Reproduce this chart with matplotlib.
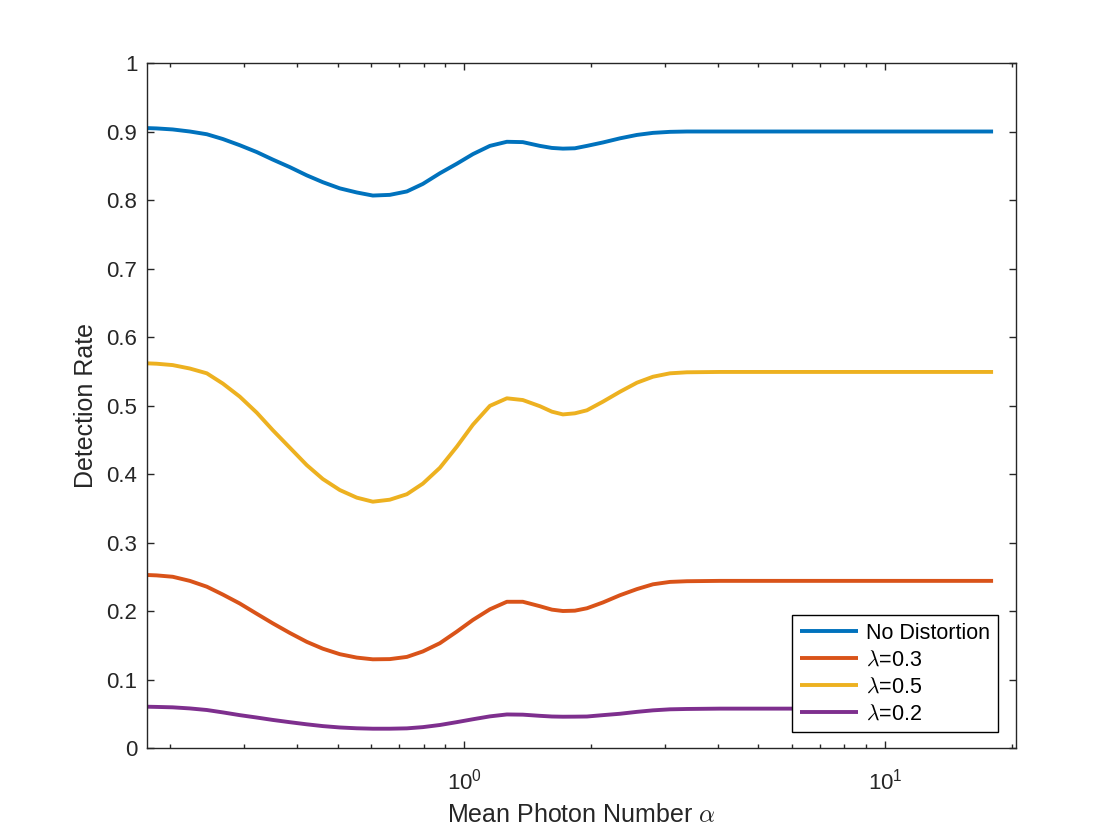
import numpy as np
import matplotlib.pyplot as plt
from matplotlib.ticker import LogLocator, FixedLocator, FuncFormatter

plt.rcParams['font.family'] = ['Liberation Sans', 'DejaVu Sans']
plt.rcParams['mathtext.fontset'] = 'cm'

# values
alpha = [0.1758, 0.1856, 0.2026, 0.2225, 0.2442, 0.2666, 0.2924, 0.3209,
         0.3504, 0.3846, 0.4220, 0.4608, 0.5057, 0.5549, 0.6059, 0.6649,
         0.7300, 0.7968, 0.8744, 0.9598, 1.048, 1.150, 1.262, 1.377,
         1.512, 1.615, 1.715, 1.831, 1.956, 2.135, 2.343, 2.572, 2.808,
         3.082, 3.381, 4.052, 5.043, 6.28, 18.07]

no_distortion = [0.905, 0.9045, 0.903, 0.900, 0.896, 0.889, 0.880, 0.870,
                 0.859, 0.848, 0.836, 0.826, 0.817, 0.811, 0.8065, 0.8075,
                 0.8125, 0.8235, 0.839, 0.853, 0.867, 0.879, 0.885, 0.8845,
                 0.879, 0.876, 0.875, 0.8755, 0.879, 0.884, 0.890, 0.895,
                 0.898, 0.8995, 0.900, 0.900, 0.900, 0.900, 0.900]
lam03 = [0.2526, 0.252, 0.250, 0.244, 0.2355, 0.224, 0.211, 0.196,
         0.182, 0.168, 0.155, 0.145, 0.137, 0.132, 0.1295, 0.1298,
         0.133, 0.141, 0.153, 0.170, 0.187, 0.2025, 0.2135, 0.2135,
         0.207, 0.202, 0.200, 0.2005, 0.204, 0.2125, 0.223, 0.232,
         0.239, 0.2425, 0.2435, 0.244, 0.244, 0.244, 0.244]
lam05 = [0.5616, 0.561, 0.559, 0.554, 0.547, 0.532, 0.513, 0.4896,
         0.464, 0.4385, 0.413, 0.3927, 0.3766, 0.3655, 0.3596, 0.3625,
         0.3705, 0.386, 0.409, 0.440, 0.472, 0.4995, 0.5105, 0.508,
         0.499, 0.491, 0.487, 0.4886, 0.493, 0.5056, 0.520, 0.5333,
         0.542, 0.547, 0.5485, 0.549, 0.549, 0.549, 0.549]
lam02 = [0.0603, 0.060, 0.0594, 0.0578, 0.0555, 0.052, 0.048, 0.0445,
         0.041, 0.0377, 0.0346, 0.032, 0.030, 0.0288, 0.0282, 0.0282,
         0.0287, 0.0305, 0.0336, 0.0378, 0.042, 0.0462, 0.049, 0.0487,
         0.047, 0.046, 0.0457, 0.0458, 0.046, 0.048, 0.050, 0.0528,
         0.055, 0.0565, 0.057, 0.0575, 0.0575, 0.0575, 0.0575]

series = [
    (no_distortion, "No Distortion", "#0072BD"),
    (lam03, r"$\lambda$=0.3", "#D95319"),
    (lam05, r"$\lambda$=0.5", "#EDB120"),
    (lam02, r"$\lambda$=0.2", "#7E2F8E"),
]

fig = plt.figure(figsize=(11.2, 8.4), dpi=100)
ax = fig.add_axes([0.13125, 0.1095, 0.776, 0.8155])

for vals, label, color in series:
    ax.plot(alpha, vals, color=color, lw=2.8, label=label,
            solid_capstyle='butt', solid_joinstyle='round')

ax.set_xscale('log')
ax.set_xlim(0.176, 20.5)
ax.set_ylim(0, 1)

ax.yaxis.set_major_locator(FixedLocator(np.arange(0, 1.01, 0.1)))
ax.yaxis.set_major_formatter(FuncFormatter(
    lambda v, p: f"{v:.1f}".rstrip('0').rstrip('.') if v != 0 else "0"))
ax.xaxis.set_major_locator(LogLocator(base=10, numticks=10))
ax.xaxis.set_minor_locator(LogLocator(base=10, subs=np.arange(2, 10), numticks=20))

dark = "#262626"
for s in ax.spines.values():
    s.set_color(dark)
    s.set_linewidth(1.0)
ax.tick_params(which='both', direction='in', top=True, right=True,
               colors=dark, width=1.0)
ax.tick_params(which='major', length=5, labelsize=16)
ax.tick_params(which='minor', length=3.2)
ax.tick_params(axis='y', pad=7)
ax.tick_params(axis='x', pad=15)

ax.set_xlabel(r"Mean Photon Number $\alpha$", fontsize=18, color=dark, labelpad=6)
ax.set_ylabel("Detection Rate", fontsize=18, color=dark, labelpad=6)

leg = ax.legend(loc='lower right', bbox_to_anchor=(0.979, 0.0234),
                borderaxespad=0, fontsize=15.5, fancybox=False,
                edgecolor='black', framealpha=1, handlelength=2.7,
                handletextpad=0.4, labelspacing=0.27, borderpad=0.35)
leg.get_frame().set_linewidth(1.0)
for t in leg.get_texts():
    t.set_color('black')

fig.savefig("out.png", dpi=100)
